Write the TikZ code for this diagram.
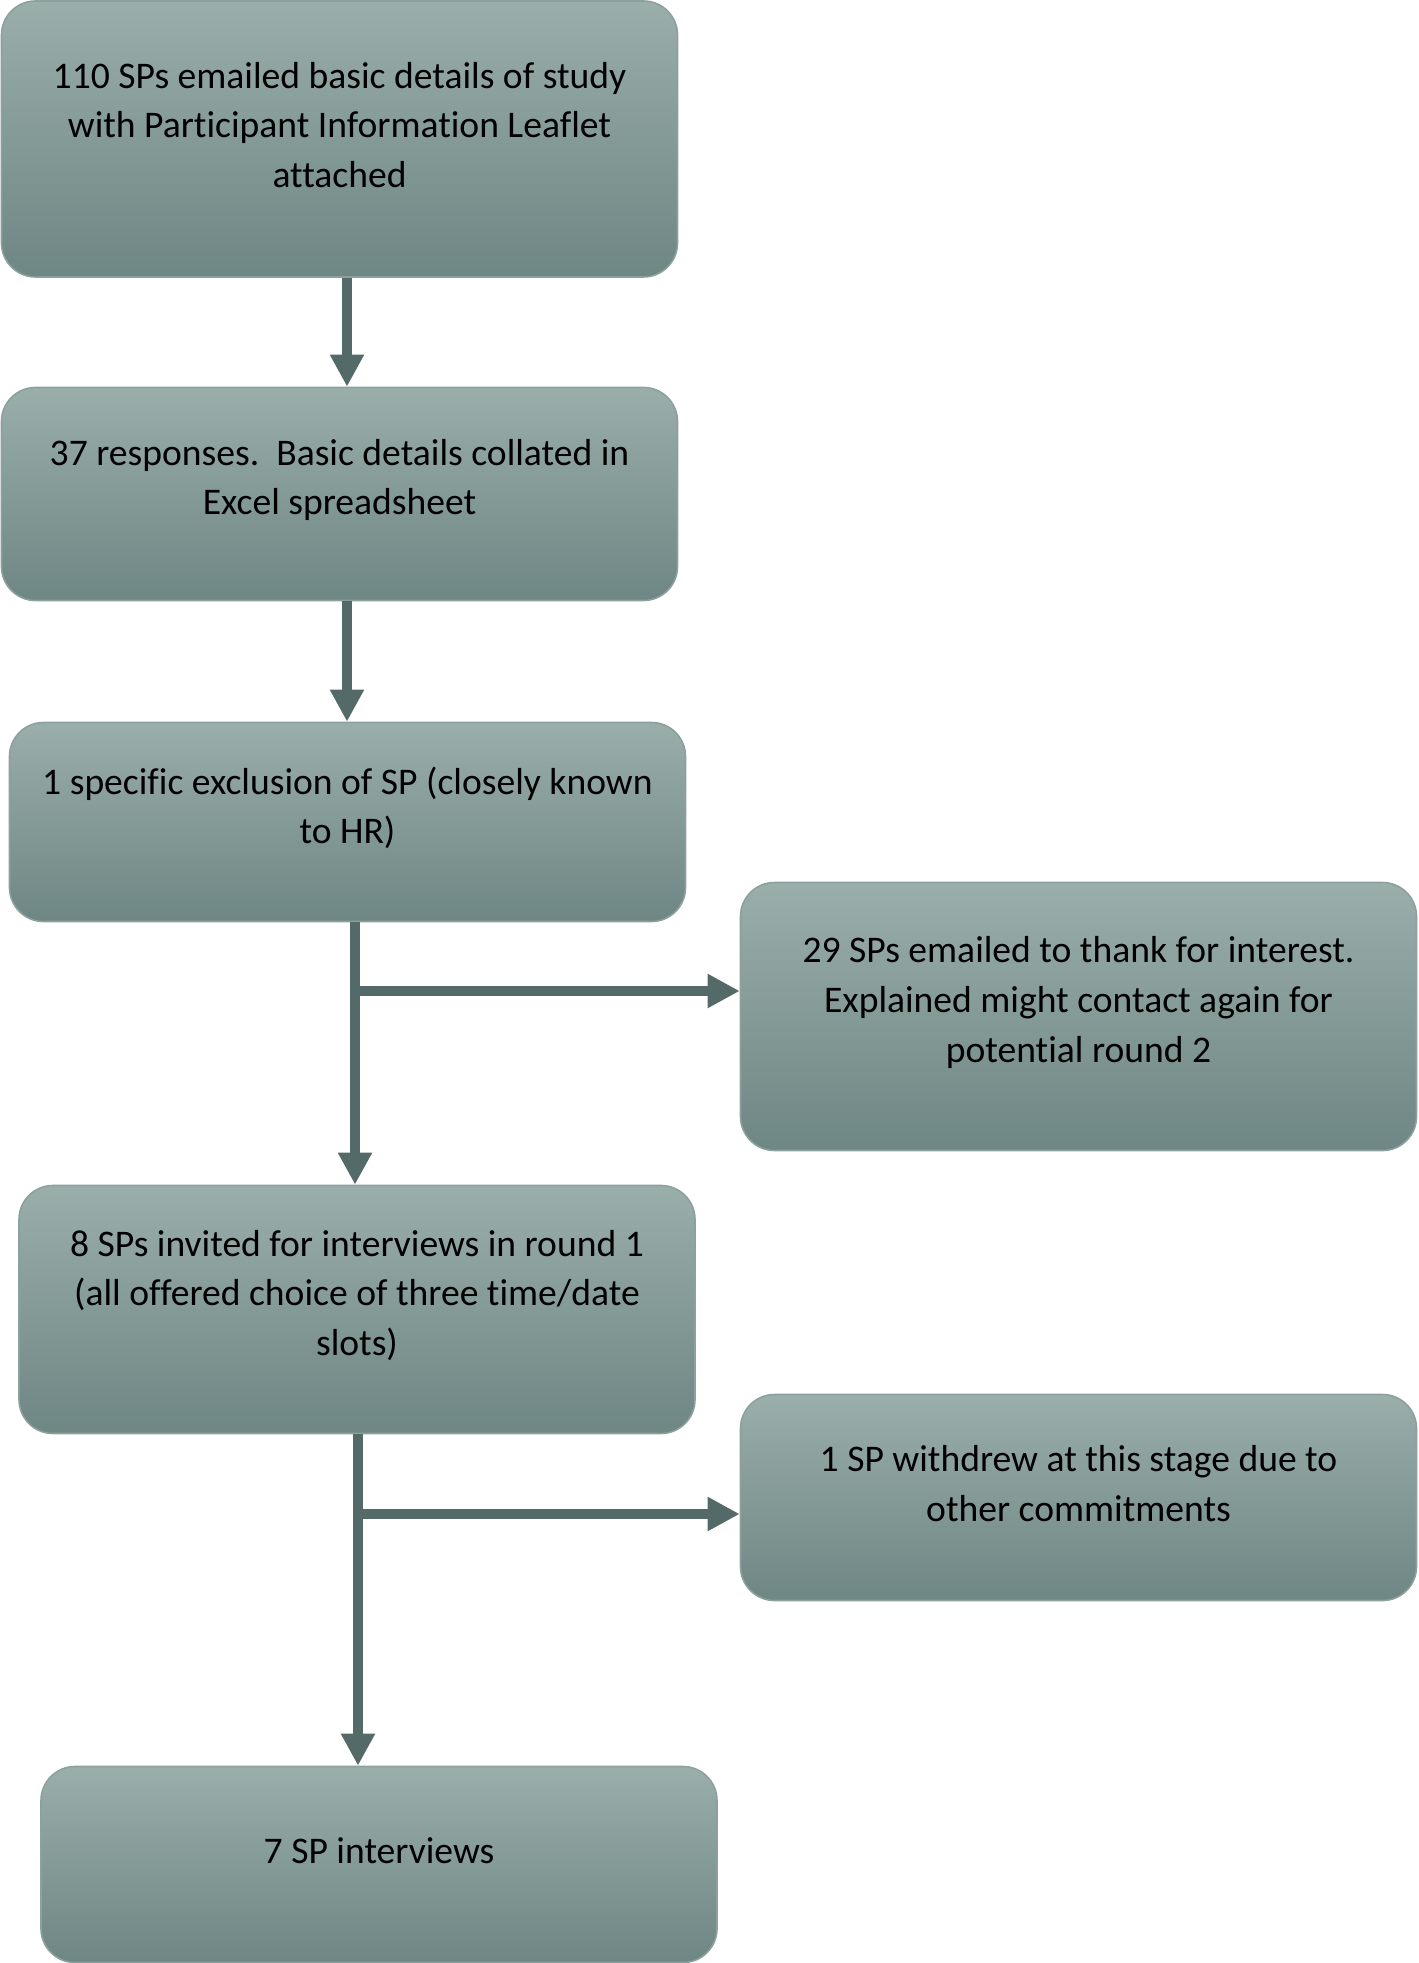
\documentclass[tikz,border=0pt]{standalone}
\usepackage{fontspec}
\setmainfont[Ligatures=NoCommon]{Carlito}
\usetikzlibrary{arrows.meta}
\definecolor{boxtop}{HTML}{9AAEAA}
\definecolor{boxbot}{HTML}{6E8684}
\definecolor{boxedge}{HTML}{8CA09D}
\definecolor{arrcol}{HTML}{546A68}
\tikzset{
  box/.style={draw=boxedge, line width=0.8pt, rounded corners=17pt, top color=boxtop, bottom color=boxbot, inner sep=0pt},
  boxtext/.style={align=center, font=\fontsize{18.8}{24.8}\selectfont, text=black, inner sep=0pt},
  arr/.style={draw=arrcol, line width=5pt, -{Triangle[length=16pt,width=16pt]}},
  seg/.style={draw=arrcol, line width=5pt}
}
\begin{document}
\begin{tikzpicture}[x=0.5pt,y=-0.5pt]
\useasboundingbox (0,0) rectangle (1418,1963);
% boxes
\node[box, minimum width=338pt, minimum height=138pt] (b1) at (339.5,139) {};
\node[box, minimum width=338pt, minimum height=106.5pt] (b2) at (339.5,494) {};
\node[box, minimum width=338pt, minimum height=99.5pt] (b3) at (347.5,822) {};
\node[box, minimum width=338pt, minimum height=134pt] (b4) at (1078.5,1016.5) {};
\node[box, minimum width=338pt, minimum height=124pt] (b5) at (357,1309.5) {};
\node[box, minimum width=338pt, minimum height=103pt] (b6) at (1078.5,1497.5) {};
\node[box, minimum width=338pt, minimum height=98pt] (b7) at (379,1864.5) {};
% texts
\node[boxtext] (t1) at ([yshift=7pt]b1.center) {110 SPs emailed basic details of study\\with Participant Information Leaflet\\attached};
\node[boxtext] (t2) at ([yshift=7pt]b2.center) {37 responses.\ \ Basic details collated in\\Excel spreadsheet};
\node[boxtext] (t3) at ([yshift=7pt]b3.center) {1 specific exclusion of SP (closely known\\to HR)};
\node[boxtext] (t4) at ([yshift=7pt]b4.center) {29 SPs emailed to thank for interest.\\Explained might contact again for\\potential round 2};
\node[boxtext] (t5) at ([yshift=7pt]b5.center) {8 SPs invited for interviews in round 1\\(all offered choice of three time/date\\slots)};
\node[boxtext] (t6) at ([yshift=7pt]b6.center) {1 SP withdrew at this stage due to\\other commitments};
\node[boxtext] (t7) at ([yshift=7pt]b7.center) {7 SP interviews};
% connector coordinates
\coordinate (c1) at (347,0);
\coordinate (c3) at (355,0);
\coordinate (c5) at (358,0);
\coordinate (j1) at (355,991);
\coordinate (j2) at (358,1514);
% connectors
\draw[arr] (c1 |- b1.south) -- (c1 |- b2.north);
\draw[arr] (c1 |- b2.south) -- (c1 |- b3.north);
\draw[arr] (c3 |- b3.south) -- (c3 |- b5.north);
\draw[arr] (j1) -- (j1 -| b4.west);
\draw[arr] (c5 |- b5.south) -- (c5 |- b7.north);
\draw[arr] (j2) -- (j2 -| b6.west);
\end{tikzpicture}
\end{document}
